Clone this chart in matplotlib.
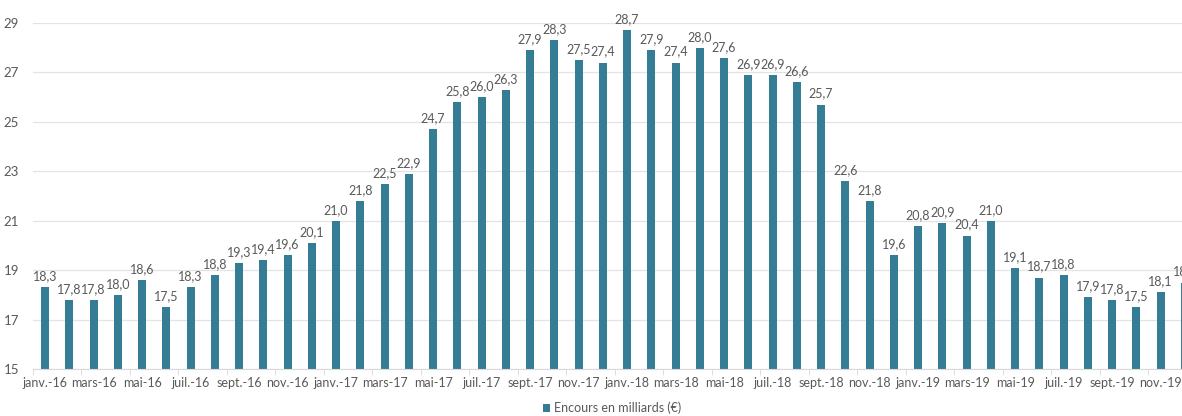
import matplotlib
matplotlib.use("Agg")
import matplotlib.pyplot as plt
import numpy as np

months = ["janv.", "févr.", "mars", "avr.", "mai", "juin", "juil.", "août", "sept.", "oct.", "nov.", "déc."]
years = ["16", "17", "18", "19"]
categories = [f"{m}-{y}" for y in years for m in months]
values = [18.3, 17.8, 17.8, 18.0, 18.6, 17.5, 18.3, 18.8, 19.3, 19.4, 19.6, 20.1,
          21.0, 21.8, 22.5, 22.9, 24.7, 25.8, 26.0, 26.3, 27.9, 28.3, 27.5, 27.4,
          28.7, 27.9, 27.4, 28.0, 27.6, 26.9, 26.9, 26.6, 25.7, 22.6, 21.8, 19.6,
          20.8, 20.9, 20.4, 21.0, 19.1, 18.7, 18.8, 17.9, 17.8, 17.5, 18.1, 18.5]
series_name = "Encours en milliards (€)"
yticks = [15, 17, 19, 21, 23, 25, 27, 29]

plt.rcParams['font.family'] = ['Lato', 'DejaVu Sans']
bar_color = "#357D94"
text_color = "#595959"

fig = plt.figure(figsize=(11.82, 4.16), dpi=100)
ax = fig.add_axes([33/1182, 47/416, 1164/1182, 346/416])
x = np.arange(len(values))
bars = ax.bar(x, values, width=0.33, color=bar_color, label=series_name, zorder=3)
for xi, v in zip(x, values):
    ax.text(xi, v + 0.2, f"{v:.1f}".replace(".", ","), ha="center", va="bottom",
            fontsize=9, color=text_color, clip_on=False)

ax.set_xlim(-0.5, len(values) - 0.5)
ax.set_ylim(15, 29)
ax.set_yticks(yticks)
ax.set_yticklabels([str(t) for t in yticks], color=text_color, fontsize=9.5)
ax.set_xticks(x[::2])
ax.set_xticklabels(categories[::2], color=text_color, fontsize=9)
ax.set_xticks(np.arange(-0.5, len(values), 2), minor=True)
ax.tick_params(axis="x", which="major", length=0, pad=6)
ax.tick_params(axis="x", which="minor", length=4, color="#d9d9d9")
ax.tick_params(axis="y", length=0, pad=10)
ax.grid(axis="y", color="#e3e3e3", linewidth=0.9, zorder=0)
for s in ["top", "right", "left"]:
    ax.spines[s].set_visible(False)
ax.spines["bottom"].set_color("#d9d9d9")
ax.spines["bottom"].set_zorder(4)

fig.legend(handles=[bars], labels=[series_name], loc="center", bbox_to_anchor=(612/1182, 1 - 408/416),
           frameon=False, fontsize=9, handlelength=0.6, handleheight=0.6, handletextpad=0.3,
           labelcolor=text_color)

fig.savefig("out.png", dpi=100)
